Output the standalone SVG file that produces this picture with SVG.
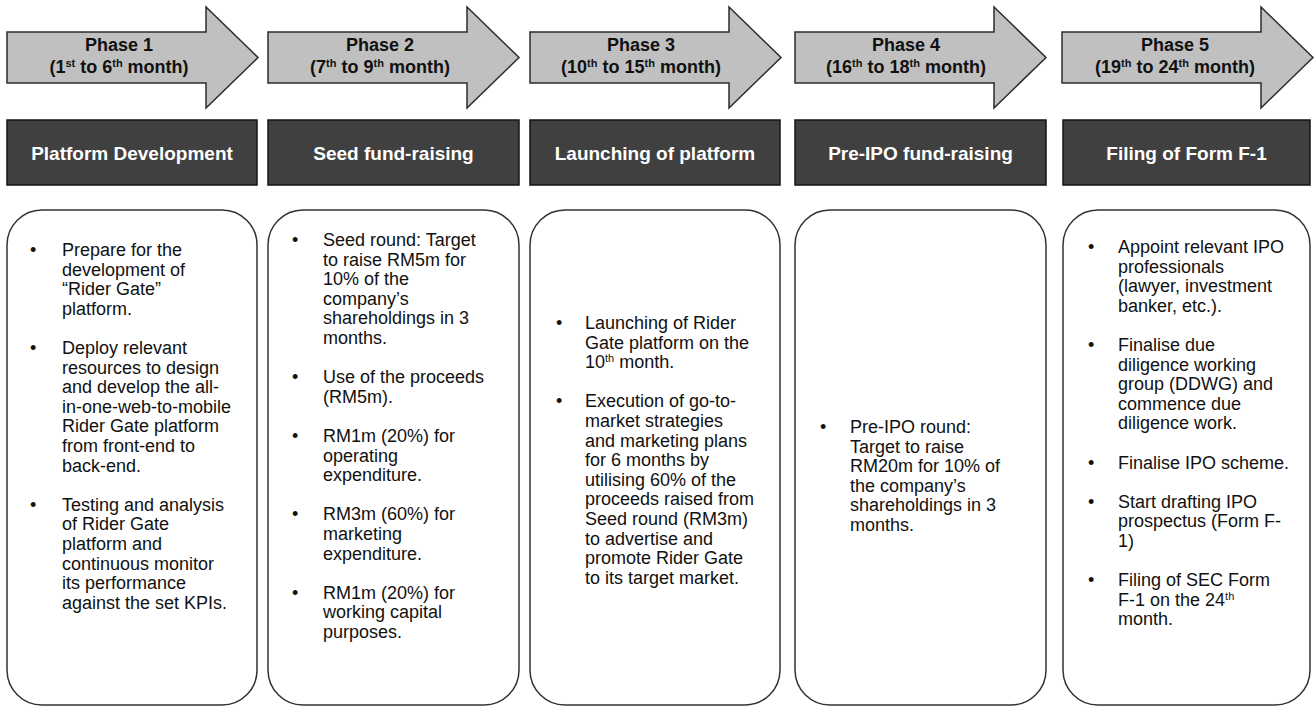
<svg xmlns="http://www.w3.org/2000/svg" width="1315" height="708" viewBox="0 0 1315 708">
<defs>
<style>
.arrow{fill:#c0c0c0;stroke:#2b2b2b;stroke-width:1.5;stroke-linejoin:miter}
.ph{font-family:"Liberation Sans",Arial,sans-serif;font-weight:bold;font-size:18px;fill:#111;text-anchor:middle}
.sup{font-size:11px}
.hdr{fill:#404040;stroke:#151515;stroke-width:1.5}
.ht{font-family:"Liberation Sans",Arial,sans-serif;font-weight:bold;font-size:19px;fill:#fff;text-anchor:middle}
.box{fill:#fff;stroke:#333;stroke-width:1.5}
.bt{font-family:"Liberation Sans",Arial,sans-serif;font-size:18px;fill:#111}
</style>
<path id="arr" d="M0,32 H199 V7 L251,57.5 L199,108 V83 H0 Z"/>
</defs>
<rect width="1315" height="708" fill="#fff"/>

<g id="phase1">
<use href="#arr" class="arrow" transform="translate(7,0)"/>
<text class="ph" x="119" y="51">Phase 1</text>
<text class="ph" x="119" y="73">(1<tspan class="sup" dy="-6">st</tspan><tspan dy="6"> to 6</tspan><tspan class="sup" dy="-6">th</tspan><tspan dy="6"> month)</tspan></text>
</g>
<g id="phase2">
<use href="#arr" class="arrow" transform="translate(268,0)"/>
<text class="ph" x="380" y="51">Phase 2</text>
<text class="ph" x="380" y="73">(7<tspan class="sup" dy="-6">th</tspan><tspan dy="6"> to 9</tspan><tspan class="sup" dy="-6">th</tspan><tspan dy="6"> month)</tspan></text>
</g>
<g id="phase3">
<use href="#arr" class="arrow" transform="translate(530,0)"/>
<text class="ph" x="641" y="51">Phase 3</text>
<text class="ph" x="641" y="73">(10<tspan class="sup" dy="-6">th</tspan><tspan dy="6"> to 15</tspan><tspan class="sup" dy="-6">th</tspan><tspan dy="6"> month)</tspan></text>
</g>
<g id="phase4">
<use href="#arr" class="arrow" transform="translate(795,0)"/>
<text class="ph" x="906" y="51">Phase 4</text>
<text class="ph" x="906" y="73">(16<tspan class="sup" dy="-6">th</tspan><tspan dy="6"> to 18</tspan><tspan class="sup" dy="-6">th</tspan><tspan dy="6"> month)</tspan></text>
</g>
<g id="phase5">
<use href="#arr" class="arrow" transform="translate(1062,0)"/>
<text class="ph" x="1175" y="51">Phase 5</text>
<text class="ph" x="1175" y="73">(19<tspan class="sup" dy="-6">th</tspan><tspan dy="6"> to 24</tspan><tspan class="sup" dy="-6">th</tspan><tspan dy="6"> month)</tspan></text>
</g>

<g id="header1"><rect class="hdr" x="7" y="120" width="250" height="65"/><text class="ht" x="132" y="160">Platform Development</text></g>
<g id="header2"><rect class="hdr" x="268" y="120" width="251" height="65"/><text class="ht" x="393.5" y="160">Seed fund-raising</text></g>
<g id="header3"><rect class="hdr" x="530" y="120" width="250" height="65"/><text class="ht" x="655" y="160">Launching of platform</text></g>
<g id="header4"><rect class="hdr" x="795" y="120" width="251" height="65"/><text class="ht" x="920.5" y="160">Pre-IPO fund-raising</text></g>
<g id="header5"><rect class="hdr" x="1063" y="120" width="247" height="65"/><text class="ht" x="1186.5" y="160">Filing of Form F-1</text></g>

<g id="box1">
<rect class="box" x="7" y="210" width="250" height="495" rx="35" ry="35"/>
<text class="bt">
<tspan x="30" y="256">•</tspan><tspan x="62" y="256">Prepare for the</tspan>
<tspan x="62" y="275.6">development of</tspan>
<tspan x="62" y="295.2">“Rider Gate”</tspan>
<tspan x="62" y="314.8">platform.</tspan>
<tspan x="30" y="354">•</tspan><tspan x="62" y="354">Deploy relevant</tspan>
<tspan x="62" y="373.6">resources to design</tspan>
<tspan x="62" y="393.2">and develop the all-</tspan>
<tspan x="62" y="412.8">in-one-web-to-mobile</tspan>
<tspan x="62" y="432.4">Rider Gate platform</tspan>
<tspan x="62" y="452">from front-end to</tspan>
<tspan x="62" y="471.6">back-end.</tspan>
<tspan x="30" y="510.8">•</tspan><tspan x="62" y="510.8">Testing and analysis</tspan>
<tspan x="62" y="530.4">of Rider Gate</tspan>
<tspan x="62" y="550">platform and</tspan>
<tspan x="62" y="569.6">continuous monitor</tspan>
<tspan x="62" y="589.2">its performance</tspan>
<tspan x="62" y="608.8">against the set KPIs.</tspan>
</text>
</g>

<g id="box2">
<rect class="box" x="268" y="210" width="251" height="495" rx="35" ry="35"/>
<text class="bt">
<tspan x="292" y="246">•</tspan><tspan x="323" y="246">Seed round: Target</tspan>
<tspan x="323" y="265.6">to raise RM5m for</tspan>
<tspan x="323" y="285.2">10% of the</tspan>
<tspan x="323" y="304.8">company’s</tspan>
<tspan x="323" y="324.4">shareholdings in 3</tspan>
<tspan x="323" y="344">months.</tspan>
<tspan x="292" y="383.2">•</tspan><tspan x="323" y="383.2">Use of the proceeds</tspan>
<tspan x="323" y="402.8">(RM5m).</tspan>
<tspan x="292" y="442">•</tspan><tspan x="323" y="442">RM1m (20%) for</tspan>
<tspan x="323" y="461.6">operating</tspan>
<tspan x="323" y="481.2">expenditure.</tspan>
<tspan x="292" y="520.4">•</tspan><tspan x="323" y="520.4">RM3m (60%) for</tspan>
<tspan x="323" y="540">marketing</tspan>
<tspan x="323" y="559.6">expenditure.</tspan>
<tspan x="292" y="598.8">•</tspan><tspan x="323" y="598.8">RM1m (20%) for</tspan>
<tspan x="323" y="618.4">working capital</tspan>
<tspan x="323" y="638">purposes.</tspan>
</text>
</g>

<g id="box3">
<rect class="box" x="530" y="210" width="250" height="495" rx="35" ry="35"/>
<text class="bt">
<tspan x="556" y="329">•</tspan><tspan x="585" y="329">Launching of Rider</tspan>
<tspan x="585" y="348.6">Gate platform on the</tspan>
<tspan x="585" y="368.2">10<tspan class="sup" dy="-6">th</tspan><tspan dy="6"> month.</tspan></tspan>
<tspan x="556" y="407.4">•</tspan><tspan x="585" y="407.4">Execution of go-to-</tspan>
<tspan x="585" y="427">market strategies</tspan>
<tspan x="585" y="446.6">and marketing plans</tspan>
<tspan x="585" y="466.2">for 6 months by</tspan>
<tspan x="585" y="485.8">utilising 60% of the</tspan>
<tspan x="585" y="505.4">proceeds raised from</tspan>
<tspan x="585" y="525">Seed round (RM3m)</tspan>
<tspan x="585" y="544.6">to advertise and</tspan>
<tspan x="585" y="564.2">promote Rider Gate</tspan>
<tspan x="585" y="583.8">to its target market.</tspan>
</text>
</g>

<g id="box4">
<rect class="box" x="795" y="210" width="251" height="495" rx="35" ry="35"/>
<text class="bt">
<tspan x="820" y="433">•</tspan><tspan x="850" y="433">Pre-IPO round:</tspan>
<tspan x="850" y="452.6">Target to raise</tspan>
<tspan x="850" y="472.2">RM20m for 10% of</tspan>
<tspan x="850" y="491.8">the company’s</tspan>
<tspan x="850" y="511.4">shareholdings in 3</tspan>
<tspan x="850" y="531">months.</tspan>
</text>
</g>

<g id="box5">
<rect class="box" x="1063" y="210" width="247" height="495" rx="35" ry="35"/>
<text class="bt">
<tspan x="1088" y="253">•</tspan><tspan x="1118" y="253">Appoint relevant IPO</tspan>
<tspan x="1118" y="272.6">professionals</tspan>
<tspan x="1118" y="292.2">(lawyer, investment</tspan>
<tspan x="1118" y="311.8">banker, etc.).</tspan>
<tspan x="1088" y="351">•</tspan><tspan x="1118" y="351">Finalise due</tspan>
<tspan x="1118" y="370.6">diligence working</tspan>
<tspan x="1118" y="390.2">group (DDWG) and</tspan>
<tspan x="1118" y="409.8">commence due</tspan>
<tspan x="1118" y="429.4">diligence work.</tspan>
<tspan x="1088" y="468.6">•</tspan><tspan x="1118" y="468.6">Finalise IPO scheme.</tspan>
<tspan x="1088" y="507.8">•</tspan><tspan x="1118" y="507.8">Start drafting IPO</tspan>
<tspan x="1118" y="527.4">prospectus (Form F-</tspan>
<tspan x="1118" y="547">1)</tspan>
<tspan x="1088" y="586.2">•</tspan><tspan x="1118" y="586.2">Filing of SEC Form</tspan>
<tspan x="1118" y="605.8">F-1 on the 24<tspan class="sup" dy="-6">th</tspan></tspan>
<tspan x="1118" y="625.4">month.</tspan>
</text>
</g>

<g id="connectors"></g>
</svg>
